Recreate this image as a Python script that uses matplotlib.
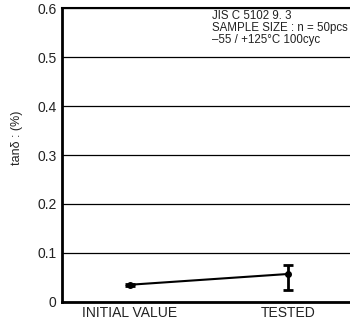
import matplotlib.pyplot as plt

plt.rcParams['font.family'] = ['Liberation Sans', 'DejaVu Sans']

etapas = ["INITIAL VALUE", "TESTED"]
valores = [0.035, 0.057]
err_bajo = [0.003, 0.033]
err_alto = [0.002, 0.019]
yticks = [0, 0.1, 0.2, 0.3, 0.4, 0.5, 0.6]
yticklabels = ["0", "0.1", "0.2", "0.3", "0.4", "0.5", "0.6"]

fig = plt.figure(figsize=(3.5, 3.26), dpi=100)
ax = fig.add_axes([0.177, 0.074, 0.823, 0.901])

x = list(range(len(etapas)))
ax.errorbar(x, valores, yerr=[err_bajo, err_alto], color='black', marker='o',
            markersize=4, linewidth=1.5, elinewidth=2, capsize=3.5, capthick=2)

ax.set_xlim(-0.43, 1.39)
ax.set_ylim(0, 0.6)
ax.set_yticks(yticks)
ax.set_yticklabels(yticklabels)
ax.set_xticks(x)
ax.set_xticklabels(etapas)
ax.tick_params(length=0, labelsize=10, colors='#222222', pad=4)
ax.tick_params(axis='x', pad=3)
ax.yaxis.grid(True, color='black', linewidth=0.9)
ax.set_axisbelow(True)

for s in ['left', 'bottom']:
    ax.spines[s].set_linewidth(2)
ax.spines['top'].set_linewidth(1.5)
ax.spines['right'].set_visible(False)

ax.set_ylabel("tanδ : (%)", fontsize=9, color='#222222')
ax.yaxis.set_label_coords(-0.135, 0.56)

ax.text(0.52, 0.995, "JIS C 5102 9. 3\nSAMPLE SIZE : n = 50pcs\n–55 / +125°C 100cyc",
        transform=ax.transAxes, fontsize=8.3, va='top', ha='left', linespacing=1.0,
        color='#222222')

plt.savefig("out.png")
